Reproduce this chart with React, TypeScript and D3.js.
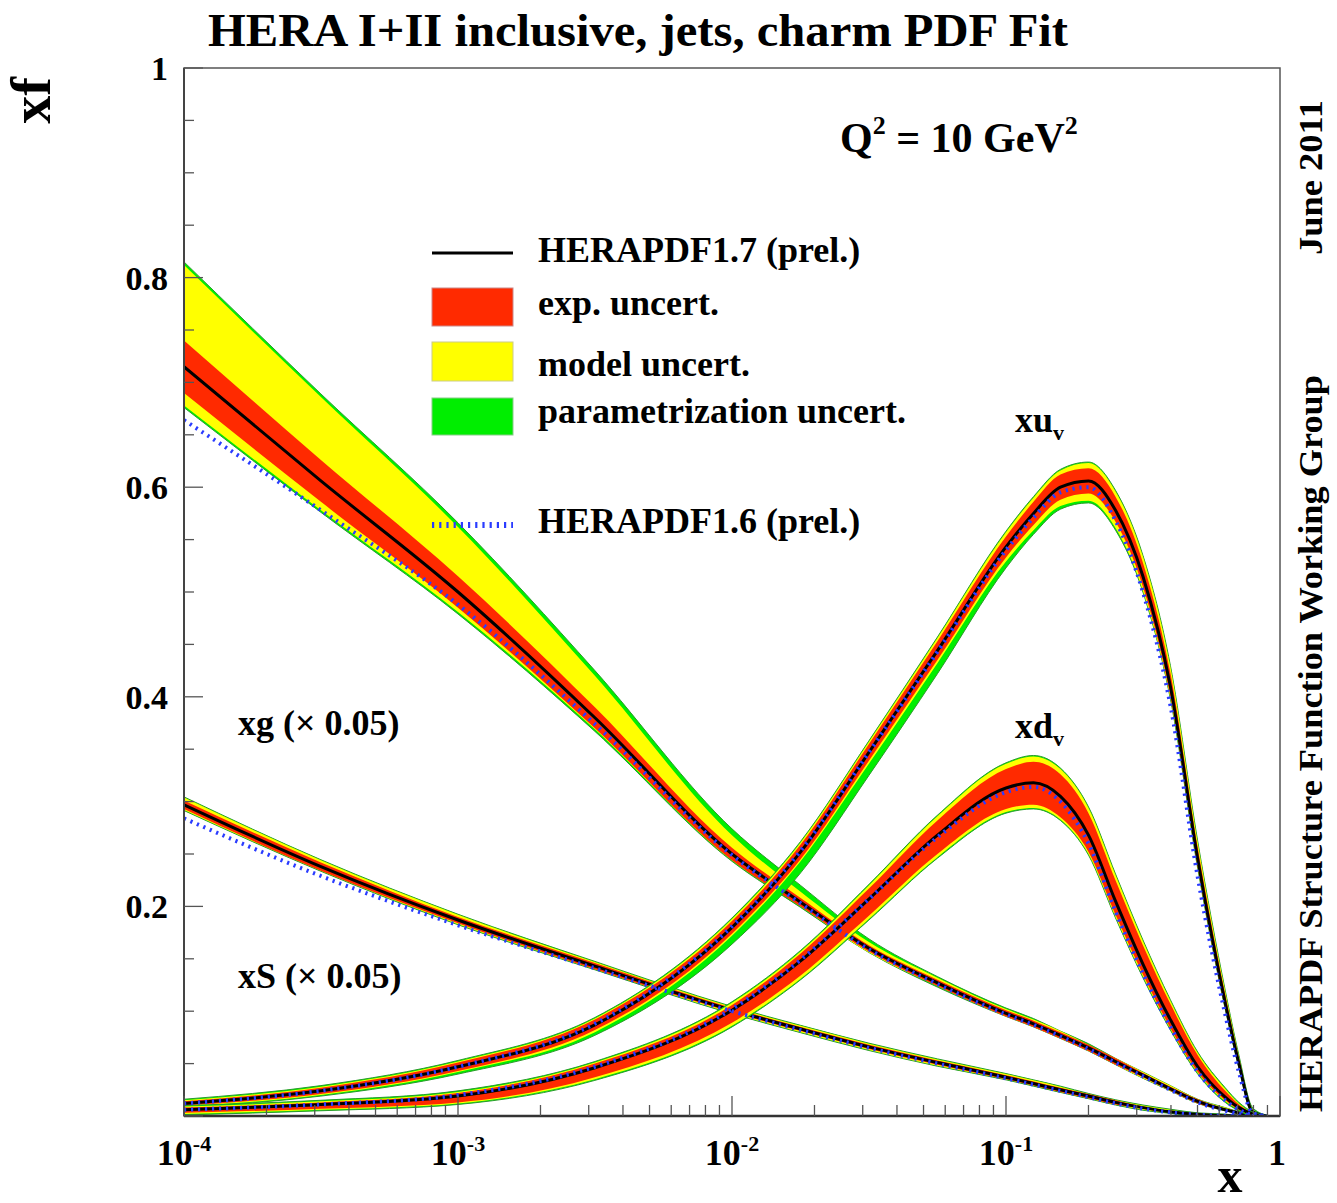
import React from 'react';
import * as d3 from 'd3';

// x grid (log spaced)
const xGrid = [0.0001, 0.000316, 0.001, 0.00316, 0.01, 0.0178, 0.0316, 0.0562, 0.1, 0.126, 0.158, 0.2, 0.251, 0.316, 0.398, 0.501, 0.631, 0.708, 0.794, 0.891];

// xg (x0.05)
const xgCentral = [0.715, 0.606, 0.500, 0.380, 0.250, 0.204, 0.160, 0.127, 0.098, 0.088, 0.077, 0.065, 0.052, 0.039, 0.026, 0.014, 0.006, 0.003, 0.001, 0];
const xgOld = [0.664, 0.578, 0.488, 0.374, 0.249, 0.203, 0.159, 0.126, 0.097, 0.087, 0.076, 0.064, 0.051, 0.038, 0.025, 0.013, 0.005, 0.002, 0.001, 0];
const xgExpUp = [0.025, 0.020, 0.015, 0.010, 0.006, 0.004, 0.003, 0.003, 0.003, 0.003, 0.003, 0.003, 0.003, 0.002, 0.002, 0.002, 0.001, 0.001, 0.001, 0];
const xgExpDn = [0.025, 0.020, 0.015, 0.010, 0.006, 0.004, 0.003, 0.003, 0.003, 0.003, 0.003, 0.003, 0.003, 0.002, 0.002, 0.002, 0.001, 0.001, 0.001, 0];
const xgModUp = [0.097, 0.080, 0.062, 0.040, 0.018, 0.010, 0.006, 0.005, 0.004, 0.004, 0.004, 0.003, 0.003, 0.003, 0.003, 0.002, 0.002, 0.001, 0.001, 0];
const xgModDn = [0.037, 0.028, 0.019, 0.011, 0.006, 0.004, 0.004, 0.003, 0.003, 0.003, 0.003, 0.003, 0.003, 0.003, 0.002, 0.002, 0.001, 0.001, 0.001, 0];
const xgParUp = [0.100, 0.083, 0.066, 0.045, 0.024, 0.016, 0.009, 0.006, 0.005, 0.005, 0.004, 0.004, 0.003, 0.003, 0.003, 0.002, 0.002, 0.001, 0.001, 0];
const xgParDn = [0.039, 0.030, 0.021, 0.013, 0.007, 0.005, 0.004, 0.004, 0.003, 0.003, 0.003, 0.003, 0.003, 0.003, 0.002, 0.002, 0.001, 0.001, 0.001, 0];

// xS (x0.05)
const xsCentral = [0.297, 0.238, 0.187, 0.143, 0.101, 0.083, 0.066, 0.051, 0.037, 0.031, 0.025, 0.019, 0.013, 0.008, 0.004, 0.0015, 0.0003, 0.0001, 0, 0];
const xsOld = [0.284, 0.229, 0.182, 0.141, 0.100, 0.082, 0.065, 0.050, 0.036, 0.030, 0.024, 0.018, 0.012, 0.007, 0.0035, 0.0012, 0.0002, 0.0001, 0, 0];
const xsExpUp = [0.004, 0.004, 0.003, 0.003, 0.002, 0.002, 0.002, 0.002, 0.002, 0.002, 0.002, 0.002, 0.002, 0.001, 0.001, 0.001, 0.001, 0, 0, 0];
const xsModUp = [0.007, 0.006, 0.005, 0.004, 0.003, 0.003, 0.003, 0.003, 0.003, 0.003, 0.003, 0.002, 0.002, 0.002, 0.002, 0.001, 0.001, 0, 0, 0];
const xsModDn = [0.005, 0.004, 0.004, 0.003, 0.003, 0.003, 0.003, 0.003, 0.002, 0.002, 0.002, 0.002, 0.002, 0.002, 0.001, 0.001, 0.001, 0, 0, 0];

// xu_v
const xuvCentral = [0.012, 0.024, 0.047, 0.087, 0.180, 0.252, 0.347, 0.444, 0.543, 0.575, 0.600, 0.606, 0.578, 0.515, 0.410, 0.245, 0.108, 0.050, 0.004, 0];
const xuvOld = [0.012, 0.024, 0.047, 0.088, 0.181, 0.253, 0.347, 0.443, 0.540, 0.571, 0.595, 0.600, 0.568, 0.500, 0.392, 0.228, 0.097, 0.042, 0.003, 0];
const xuvExpUp = [0.002, 0.003, 0.004, 0.005, 0.006, 0.007, 0.008, 0.009, 0.010, 0.011, 0.012, 0.012, 0.013, 0.013, 0.013, 0.011, 0.008, 0.005, 0.002, 0];
const xuvExpDn = [0.002, 0.003, 0.004, 0.005, 0.006, 0.007, 0.008, 0.009, 0.010, 0.011, 0.012, 0.012, 0.011, 0.010, 0.009, 0.007, 0.005, 0.003, 0.001, 0];
const xuvModUp = [0.003, 0.004, 0.005, 0.006, 0.008, 0.009, 0.010, 0.012, 0.014, 0.015, 0.016, 0.017, 0.018, 0.019, 0.019, 0.016, 0.011, 0.007, 0.003, 0];
const xuvModDn = [0.003, 0.004, 0.005, 0.007, 0.008, 0.009, 0.011, 0.012, 0.014, 0.016, 0.018, 0.019, 0.017, 0.014, 0.011, 0.009, 0.006, 0.004, 0.002, 0];
const xuvParDn = [0.004, 0.005, 0.007, 0.010, 0.016, 0.020, 0.022, 0.022, 0.020, 0.020, 0.021, 0.021, 0.019, 0.015, 0.012, 0.009, 0.006, 0.004, 0.002, 0];

// xd_v
const xdvCentral = [0.006, 0.011, 0.019, 0.046, 0.101, 0.148, 0.207, 0.268, 0.313, 0.318, 0.305, 0.268, 0.205, 0.145, 0.092, 0.047, 0.018, 0.008, 0.002, 0];
const xdvOld = [0.006, 0.011, 0.020, 0.047, 0.102, 0.149, 0.207, 0.266, 0.309, 0.314, 0.300, 0.260, 0.195, 0.136, 0.085, 0.042, 0.015, 0.006, 0.001, 0];
const xdvExpUp = [0.002, 0.002, 0.003, 0.004, 0.005, 0.007, 0.010, 0.014, 0.018, 0.020, 0.021, 0.021, 0.020, 0.018, 0.015, 0.011, 0.006, 0.003, 0.001, 0];
const xdvExpDn = [0.003, 0.004, 0.006, 0.009, 0.012, 0.014, 0.016, 0.018, 0.020, 0.021, 0.020, 0.016, 0.013, 0.010, 0.008, 0.005, 0.003, 0.002, 0.001, 0];
const xdvModUp = [0.003, 0.003, 0.004, 0.005, 0.007, 0.009, 0.013, 0.018, 0.023, 0.025, 0.026, 0.026, 0.025, 0.022, 0.018, 0.013, 0.008, 0.004, 0.001, 0];
const xdvModDn = [0.004, 0.005, 0.007, 0.011, 0.015, 0.017, 0.019, 0.021, 0.023, 0.024, 0.022, 0.018, 0.015, 0.012, 0.009, 0.006, 0.004, 0.002, 0.001, 0];

const yTickLabels = ['0.2', '0.4', '0.6', '0.8', '1'];
const xTickExps = [-4, -3, -2, -1, 0];
const legendLabels = ['HERAPDF1.7 (prel.)', 'exp. uncert.', 'model uncert.', 'parametrization uncert.', 'HERAPDF1.6 (prel.)'];

const RED = '#ff2a00';
const YELLOW = '#ffff00';
const GREEN = '#00ee00';
const BLUE = '#2a3cff';
const FONT = '"Liberation Serif", "Times New Roman", serif';

const X0 = 184, X1 = 1280, Y0 = 1116, Y1 = 68;

export default function App() {
  const x = d3.scaleLog().domain([1e-4, 1]).range([X0, X1]);
  const y = d3.scaleLinear().domain([0, 1]).range([Y0, Y1]);

  const lineGen = (vals: number[]) =>
    d3.line<number>().x((_, i) => x(xGrid[i])).y((d) => y(d)).curve(d3.curveMonotoneX)(vals) || '';
  const areaGen = (c: number[], up: number[], dn: number[]) =>
    d3.area<number>()
      .x((_, i) => x(xGrid[i]))
      .y0((d, i) => y(Math.max(0, d - dn[i])))
      .y1((d, i) => y(d + up[i]))
      .curve(d3.curveMonotoneX)(c) || '';

  const maxArr = (a: number[], b: number[]) => a.map((v, i) => Math.max(v, b[i]));

  const pdfs = [
    { c: xgCentral, exp: [xgExpUp, xgExpDn], mod: [xgModUp, xgModDn], par: [maxArr(xgParUp, xgModUp), maxArr(xgParDn, xgModDn)] },
    { c: xsCentral, exp: [xsExpUp, xsExpUp], mod: [xsModUp, xsModDn], par: [xsModUp.map(v => v + 0.0005), xsModDn.map(v => v + 0.0005)] },
    { c: xuvCentral, exp: [xuvExpUp, xuvExpDn], mod: [xuvModUp, xuvModDn], par: [xuvModUp.map(v => v + 0.001), maxArr(xuvParDn, xuvModDn)] },
    { c: xdvCentral, exp: [xdvExpUp, xdvExpDn], mod: [xdvModUp, xdvModDn], par: [xdvModUp.map(v => v + 0.001), xdvModDn.map(v => v + 0.001)] },
  ];
  const olds = [xgOld, xsOld, xuvOld, xdvOld];

  const xMajor = xTickExps.map((e) => Math.pow(10, e));
  const xMinor: number[] = [];
  for (let e = -4; e < 0; e++) for (let k = 2; k <= 9; k++) xMinor.push(k * Math.pow(10, e));
  const yMajor = d3.range(0, 1.0001, 0.2);
  const yMinor = d3.range(0, 1.0001, 0.05).filter((v) => Math.abs(v / 0.2 - Math.round(v / 0.2)) > 1e-6);

  const legX = 432, legTx = 538;

  return (
    <svg width={1337} height={1203} style={{ position: 'absolute', left: 0, top: 0, background: '#fff' }} fontFamily={FONT} fontWeight="bold">
      <defs>
        <clipPath id="plot">
          <rect x={X0} y={Y1} width={X1 - X0} height={Y0 - Y1} />
        </clipPath>
      </defs>
      <rect x={0} y={0} width={1337} height={1203} fill="#fff" />

      <g clipPath="url(#plot)">
        {pdfs.map((p, i) => (
          <g key={i}>
            <path d={areaGen(p.c, p.par[0], p.par[1])} fill={GREEN} stroke="#2a9a2a" strokeWidth={1} />
            <path d={areaGen(p.c, p.mod[0], p.mod[1])} fill={YELLOW} />
            <path d={areaGen(p.c, p.exp[0], p.exp[1])} fill={RED} />
            <path d={lineGen(p.c)} fill="none" stroke="#000" strokeWidth={3} />
          </g>
        ))}
        {olds.map((o, i) => (
          <path key={i} d={lineGen(o)} fill="none" stroke={BLUE} strokeWidth={4} strokeDasharray="2.2 4.8" />
        ))}
      </g>

      <rect x={X0} y={Y1} width={X1 - X0} height={Y0 - Y1} fill="none" stroke="#555" strokeWidth={1.5} />
      <line x1={X0} x2={X1} y1={Y0} y2={Y0} stroke="#333" strokeWidth={2.5} />
      <line x1={X0} x2={X0} y1={Y1} y2={Y0} stroke="#444" strokeWidth={2} />

      {xMajor.map((v, i) => (
        <line key={'xM' + i} x1={x(v)} x2={x(v)} y1={Y0} y2={Y0 - 20} stroke="#555" strokeWidth={1.3} />
      ))}
      {xMinor.map((v, i) => (
        <line key={'xm' + i} x1={x(v)} x2={x(v)} y1={Y0} y2={Y0 - 11} stroke="#555" strokeWidth={1.3} />
      ))}
      {yMajor.map((v, i) => (
        <line key={'yM' + i} x1={X0} x2={X0 + 19} y1={y(v)} y2={y(v)} stroke="#555" strokeWidth={1.3} />
      ))}
      {yMinor.map((v, i) => (
        <line key={'ym' + i} x1={X0} x2={X0 + 10} y1={y(v)} y2={y(v)} stroke="#555" strokeWidth={1.3} />
      ))}

      {yTickLabels.map((t) => (
        <text key={t} x={168} y={y(parseFloat(t)) + 12} textAnchor="end" fontSize={34}>{t}</text>
      ))}
      {xTickExps.map((e) => (
        e === 0 ? (
          <text key={e} x={x(1) - 3} y={1165} textAnchor="middle" fontSize={36}>1</text>
        ) : (
          <text key={e} x={x(Math.pow(10, e))} y={1165} textAnchor="middle" fontSize={36}>
            10<tspan dy={-14} fontSize={22}>{String(e)}</tspan>
          </text>
        )
      ))}

      <text x={1230} y={1192} textAnchor="middle" fontSize={50}>x</text>
      <text transform="translate(50,77) rotate(-90)" textAnchor="end" fontSize={56}>xf</text>

      <text x={208} y={46} fontSize={46} textLength={860} lengthAdjust="spacingAndGlyphs">HERA I+II inclusive, jets, charm PDF Fit</text>

      <text transform="translate(1322,255) rotate(-90)" fontSize={34} textLength={155} lengthAdjust="spacingAndGlyphs">June 2011</text>
      <text transform="translate(1322,1112) rotate(-90)" fontSize={34} textLength={737} lengthAdjust="spacingAndGlyphs">HERAPDF Structure Function Working Group</text>

      <text x={840} y={152} fontSize={42}>
        Q<tspan dy={-18} fontSize={26}>2</tspan><tspan dy={18}> = 10 GeV</tspan><tspan dy={-18} fontSize={26}>2</tspan>
      </text>

      <line x1={legX} x2={513} y1={253} y2={253} stroke="#000" strokeWidth={3} />
      <rect x={legX} y={288} width={81} height={38} fill={RED} stroke="#c88" strokeWidth={1} />
      <rect x={legX} y={342} width={81} height={39} fill={YELLOW} stroke="#cc8" strokeWidth={1} />
      <rect x={legX} y={398} width={81} height={37} fill={GREEN} stroke="#8c8" strokeWidth={1} />
      <line x1={legX} x2={513} y1={525} y2={525} stroke={BLUE} strokeWidth={6} strokeDasharray="2.2 5" />
      <text x={legTx} y={262} fontSize={36}>{legendLabels[0]}</text>
      <text x={legTx} y={315} fontSize={36}>{legendLabels[1]}</text>
      <text x={legTx} y={376} fontSize={36}>{legendLabels[2]}</text>
      <text x={legTx} y={423} fontSize={36}>{legendLabels[3]}</text>
      <text x={legTx} y={533} fontSize={36}>{legendLabels[4]}</text>

      <text x={238} y={735} fontSize={36}>xg (× 0.05)</text>
      <text x={238} y={988} fontSize={36}>xS (× 0.05)</text>
      <text x={1015} y={432} fontSize={36}>xu<tspan dy={8} fontSize={22}>v</tspan></text>
      <text x={1015} y={738} fontSize={36}>xd<tspan dy={8} fontSize={22}>v</tspan></text>
    </svg>
  );
}
